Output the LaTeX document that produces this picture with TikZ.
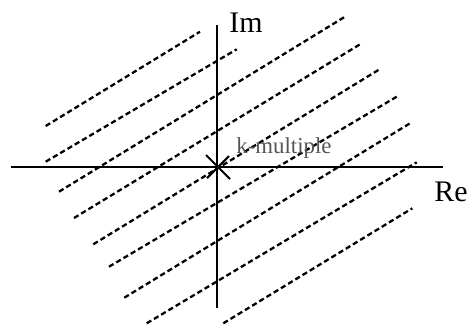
\documentclass[tikz,border=0pt]{standalone}
\usepackage{fontspec}
\setmainfont{Liberation Serif}
\usetikzlibrary{positioning, calc}
\definecolor{labgray}{RGB}{85,85,85}

\begin{document}
\begin{tikzpicture}[
  x=0.02cm, y=-0.02cm,
  axis/.style={line width=0.8pt, black},
  hatch/.style={line width=1.3pt, black, dash pattern=on 3pt off 1.8pt},
  cross/.style={line width=1.2pt, black},
  axlabel/.style={font=\fontsize{17}{20}\selectfont, inner sep=0pt},
  rootlabel/.style={font=\fontsize{13}{15}\selectfont, text=labgray, inner sep=0pt}
]
  \useasboundingbox (0,0) rectangle (469,329);

  %% Dashed lines of constant angle
  \foreach \i/\xa/\ya/\xb/\yb in {1/45.7/126/200/31.7, 2/45.7/161.7/236.7/49.3,
      3/59/191.7/345/16.7, 4/74/218/361.7/43.3, 5/93.3/244.3/380/69,
      6/109/266.7/396.7/96.7, 7/124.3/297.7/410/123.3, 8/146.7/323.3/416.7/162.3,
      9/223.3/323.3/412.3/208.3}{
    \coordinate (s\i) at (\xa,\ya);
    \coordinate (e\i) at (\xb,\yb);
    \draw[hatch] (s\i) -- (e\i);
  }

  %% Axes
  \coordinate (reL) at (11,167);
  \coordinate (reR) at (443,167);
  \coordinate (imB) at (217,308);
  \coordinate (imT) at (217,25);
  \draw[axis] (reL) -- (reR);
  \draw[axis, line width=1.1pt] (imB) -- (imT);
  \node[axlabel] (im) at (246,23) {Im};
  \node[axlabel] (re) at (451,192) {Re};

  %% Multiple root
  \coordinate (o) at (218,167);
  \draw[cross] ($(o)+(-12,-12)$) -- ($(o)+(12,12)$);
  \draw[cross] ($(o)+(11,-11)$) -- ($(o)+(-11,11)$);
  \node[rootlabel, anchor=west] (kmult) at (236,148) {k-multiple};
\end{tikzpicture}
\end{document}
